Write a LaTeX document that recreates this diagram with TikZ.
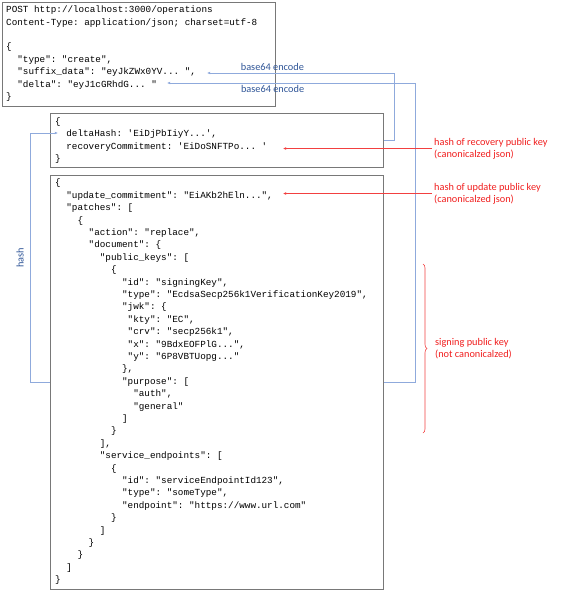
\documentclass[tikz,border=0pt]{standalone}
\usepackage{fontspec}
\setmainfont{Carlito}
\setmonofont{Liberation Mono}
\definecolor{linkblue}{RGB}{143, 170, 220}
\definecolor{noteblue}{RGB}{47, 85, 151}
\definecolor{notered}{RGB}{240, 30, 30}
\definecolor{boxgray}{RGB}{120, 120, 120}
\usetikzlibrary{arrows.meta, decorations.pathreplacing}
\newcommand{\ind}[1]{\hspace*{#1\dimexpr0.6em\relax}}
\tikzset{
	codebox/.style={rectangle, draw=boxgray, line width=0.9pt, anchor=north west, inner sep=0pt},
	code/.style={anchor=north west, align=left, inner sep=0pt, font=\ttfamily\fontsize{9.3}{12.4}\selectfont},
	link/.style={-{Latex[length=3.2pt, width=2.8pt]}, draw=linkblue, line width=0.7pt},
	redlink/.style={-{Latex[length=3.2pt, width=2.8pt]}, draw=notered!85, line width=0.6pt},
	bluenote/.style={text=noteblue, inner sep=2pt, font=\fontsize{10.3}{11.8}\selectfont},
	rednote/.style={text=notered, anchor=west, align=left, inner sep=2pt, font=\fontsize{10.3}{11.8}\selectfont},
}

\begin{document}
\begin{tikzpicture}[x=1pt, y=-1pt]
		\useasboundingbox (0,0) rectangle (562,592);
		\node[codebox, minimum width=273pt, minimum height=104pt] (request) at (2,2) {};
		\node[codebox, minimum width=333pt, minimum height=54pt] (suffix) at (50,113) {};
		\node[codebox, minimum width=333pt, minimum height=414pt] (delta) at (50,175) {};
		\node[code] (requesttxt) at (6,3.8) {\strut POST http://localhost:3000/operations\\
			Content-Type: application/json; charset=utf-8\\
			\mbox{}\\
			\{\\
			\ind{2}"type": "create",\\
			\ind{2}"suffix\_data": "eyJkZWx0YV... ",\\
			\ind{2}"delta": "eyJ1cGRhdG... "\\
			\}};
		\node[code] (suffixtxt) at (55,115.4) {\strut\{\\
			\ind{2}deltaHash: \textquotesingle EiDjPbIiyY...\textquotesingle,\\
			\ind{2}recoveryCommitment: \textquotesingle EiDoSNFTPo... \textquotesingle\\
			\}};
		\node[code] (deltatxt) at (55,177) {\strut\{\\
			\ind{2}"update\_commitment": "EiAKb2hEln...",\\
			\ind{2}"patches": [\\
			\ind{4}\{\\
			\ind{6}"action": "replace",\\
			\ind{6}"document": \{\\
			\ind{8}"public\_keys": [\\
			\ind{10}\{\\
			\ind{12}"id": "signingKey",\\
			\ind{12}"type": "EcdsaSecp256k1VerificationKey2019",\\
			\ind{12}"jwk": \{\\
			\ind{13}"kty": "EC",\\
			\ind{13}"crv": "secp256k1",\\
			\ind{13}"x": "9BdxEOFPlG...",\\
			\ind{13}"y": "6P8VBTUopg..."\\
			\ind{12}\},\\
			\ind{12}"purpose": [\\
			\ind{14}"auth",\\
			\ind{14}"general"\\
			\ind{12}]\\
			\ind{10}\}\\
			\ind{8}],\\
			\ind{8}"service\_endpoints": [\\
			\ind{10}\{\\
			\ind{12}"id": "serviceEndpointId123",\\
			\ind{12}"type": "someType",\\
			\ind{12}"endpoint": "https://www.url.com"\\
			\ind{10}\}\\
			\ind{8}]\\
			\ind{6}\}\\
			\ind{4}\}\\
			\ind{2}]\\
			\}};
		\coordinate (suffixtip) at (207,73);
		\coordinate (deltatip) at (167,83);
		\coordinate (hashtip) at (58,133);
		\coordinate (recoverytip) at (283,148.5);
		\coordinate (updatetip) at (283,193.5);
		\draw[link] (suffix.east) -- ++(10,0) |- (suffixtip) node[bluenote, pos=0.825, above] {base64 encode};
		\draw[link] (delta.east) -- ++(31,0) |- (deltatip) node[bluenote, pos=0.787, below] {base64 encode};
		\draw[link] (delta.west) -- ++(-20,0) |- (hashtip);
		\node[bluenote, rotate=90] (hashlbl) at (20,258) {hash};
		\node[rednote] (recoverylbl) at (432,148.5) {hash of recovery public key\\(canonicalzed json)};
		\node[rednote] (updatelbl) at (432,193.5) {hash of update public key\\(canonicalzed json)};
		\draw[redlink] (recoverylbl.west) -- (recoverytip);
		\draw[redlink] (updatelbl.west) -- (updatetip);
		\coordinate (keytop) at (423,264);
		\coordinate (keybottom) at (423,433);
		\draw[notered!85, line width=0.6pt, decorate, decoration={brace, amplitude=4pt}] (keytop) -- (keybottom);
		\node[rednote] (signinglbl) at (433,349) {signing public key\\(not canonicalzed)};
	\end{tikzpicture}
\end{document}
